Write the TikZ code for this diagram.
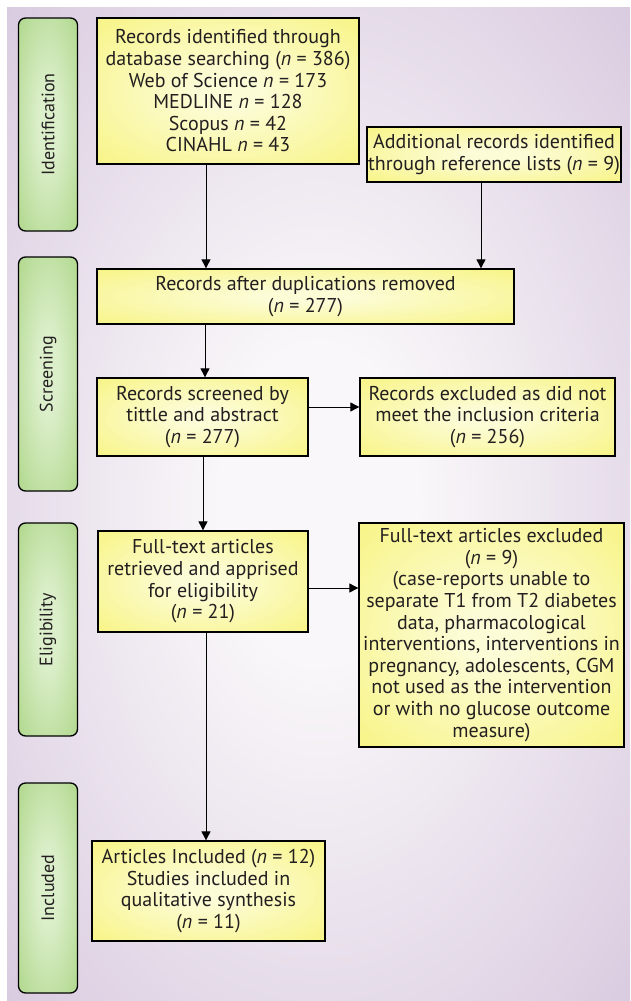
\documentclass[tikz,border=0pt]{standalone}
\usepackage{fontspec}
\setmainfont{PT Sans}
\usetikzlibrary{arrows.meta}
\definecolor{purp}{HTML}{D2C1DA}
\definecolor{bgin}{HTML}{F9F7F9}
\definecolor{yout}{HTML}{F7F37A}
\definecolor{yin}{HTML}{FCFCD6}
\definecolor{gout}{HTML}{A9D483}
\definecolor{gin}{HTML}{DCEFCB}
\definecolor{txt}{HTML}{231F20}
\pgfdeclareradialshading{bgshade}{\pgfpoint{0bp}{0bp}}{color(0bp)=(bgin); color(8bp)=(bgin); color(42bp)=(purp); color(80bp)=(purp)}
\pgfdeclareradialshading{yshade}{\pgfpoint{0bp}{0bp}}{color(0bp)=(yin); color(6bp)=(yin); color(40bp)=(yout); color(80bp)=(yout)}
\pgfdeclareradialshading{gshade}{\pgfpoint{0bp}{0bp}}{color(0bp)=(gin); color(8bp)=(gin); color(40bp)=(gout); color(80bp)=(gout)}
\newcommand{\nval}{\textit{n}}
\tikzset{
  ybox/.style={draw=black, line width=1.3pt, shading=yshade, align=center, inner sep=0pt,
    text=txt, font=\fontsize{20}{21.6}\selectfont},
  glabel/.style={draw=black, line width=1.3pt, shading=gshade, rounded corners=7pt,
    minimum width=59pt, text=txt, font=\fontsize{18}{21}\selectfont},
  arr/.style={draw=black, line width=0.9pt, -{Triangle[length=9pt,width=9pt]}}
}
\begin{document}
\begin{tikzpicture}[x=1pt,y=-1pt]
\useasboundingbox (0,0) rectangle (630,1001);
\fill[white] (0,0) rectangle (630,1001);
\shade[shading=bgshade] (7,7) rectangle (630,1001);

% stage labels
\node[glabel, minimum height=213pt] (ident) at (48,124.5) {\rotatebox{90}{Identification}};
\node[glabel, minimum height=234pt] (screen) at (48,374) {\rotatebox{90}{Screening}};
\node[glabel, minimum height=213pt] (elig) at (48,629.5) {\rotatebox{90}{Eligibility}};
\node[glabel, minimum height=210pt] (incl) at (48,888) {\rotatebox{90}{Included}};

% boxes
\node[ybox, minimum width=262pt, minimum height=146pt] (b1) at (228,91)
  {Records identified through\\database searching (\nval{} = 386)\\Web of Science \nval{} = 173\\MEDLINE \nval{} = 128\\Scopus \nval{} = 42\\CINAHL \nval{} = 43};
\node[ybox, minimum width=254pt, minimum height=55pt] (b2) at (494,154.5)
  {Additional records identified\\through reference lists (\nval{} = 9)};
\node[ybox, minimum width=417pt, minimum height=55pt] (b3) at (305.5,296.5)
  {Records after duplications removed\\(\nval{} = 277)};
\node[ybox, minimum width=211pt, minimum height=78pt] (b4) at (202.5,417)
  {Records screened by\\tittle and abstract\\(\nval{} = 277)};
\node[ybox, minimum width=255pt, minimum height=78pt] (b5) at (487.5,417)
  {Records excluded as did not\\meet the inclusion criteria\\(\nval{} = 256)};
\node[ybox, minimum width=210pt, minimum height=101pt] (b6) at (203,581.5)
  {Full-text articles\\retrieved and apprised\\for eligibility\\(\nval{} = 21)};
\node[ybox, minimum width=265pt, minimum height=224pt] (b7) at (491.5,635)
  {Full-text articles excluded\\(\nval{} = 9)\\(case-reports unable to\\separate T1 from T2 diabetes\\data, pharmacological\\interventions, interventions in\\pregnancy, adolescents, CGM\\not used as the intervention\\or with no glucose outcome\\measure)};
\node[ybox, minimum width=233pt, minimum height=100pt] (b8) at (208.5,891)
  {Articles Included (\nval{} = 12)\\Studies included in\\qualitative synthesis\\(\nval{} = 11)};

% connector guides
\coordinate (xa) at (206,0);
\coordinate (xb) at (481,0);
\coordinate (xc) at (205,0);
\coordinate (xd) at (203,0);
\coordinate (ya) at (0,407);
\coordinate (yb) at (0,588);

\draw[arr] (b1.south -| xa) -- (b3.north -| xa);
\draw[arr] (b2.south -| xb) -- (b3.north -| xb);
\draw[arr] (b3.south -| xc) -- (b4.north -| xc);
\draw[arr] (b4.east |- ya) -- (b5.west |- ya);
\draw[arr] (b4.south -| xd) -- (b6.north -| xd);
\draw[arr] (b6.east |- yb) -- (b7.west |- yb);
\draw[arr] (b6.south -| xa) -- (b8.north -| xa);
\end{tikzpicture}
\end{document}
